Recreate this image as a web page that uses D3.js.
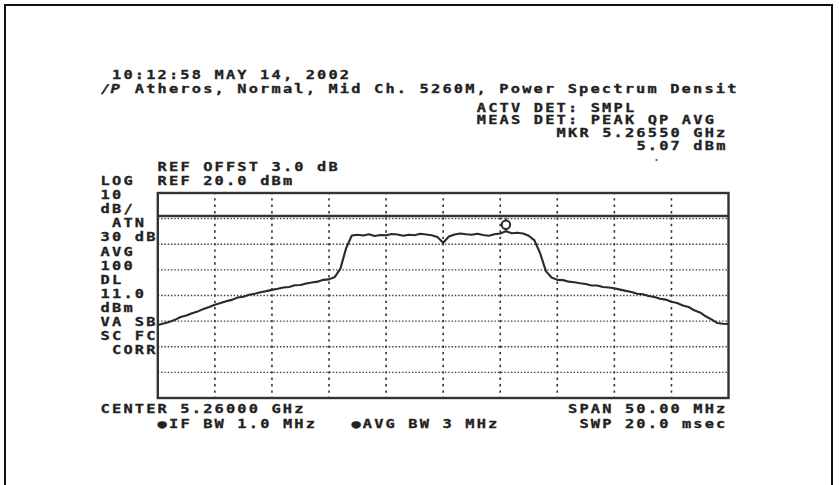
<!DOCTYPE html>
<html>
<head>
<meta charset="utf-8">
<script src="https://cdn.jsdelivr.net/npm/d3@7"></script>
<style>
  html, body { margin: 0; padding: 0; background: #fff; }
  svg { display: block; }
  .scr { font-family: "DejaVu Sans Mono", monospace; font-weight: bold; fill: #222; stroke: #222; stroke-width: 0.3; }
</style>
</head>
<body>
<svg id="chart" width="839" height="485"></svg>
<script>
// Spectrum analyser screen: 5.26 GHz centre, 50 MHz span, 10 dB/div log scale.
const freqStart = 5235;   // MHz
const freqStop = 5285;    // MHz
const freqStep = 0.5;     // MHz between trace samples
const refLevel = 20;      // dBm, top of graticule
const bottomLevel = -60;  // dBm, bottom of graticule
const displayLine = 11.0; // dBm

// Trace amplitudes (dBm), one per sample from 5235 to 5285 MHz
const traceDbm = [
  -31.5, -30.9, -30.3, -29.5, -28.4, -27.8, -26.9, -26.2, -25.3, -24.5,
  -23.6, -22.9, -22.2, -21.7, -20.8, -20.5, -19.7, -19.3, -18.7, -18.3,
  -17.8, -17.4, -16.9, -16.7, -16.0, -15.9, -15.3, -14.9, -14.6, -13.9,
  -13.7, -12.8, -9.5, -1.5, 3.4, 3.7, 3.4, 3.9, 3.2, 3.6,
  3.5, 4.0, 3.8, 3.3, 3.7, 3.5, 4.1, 3.8, 3.5, 2.8,
  0.6, 3.0, 3.8, 4.2, 3.9, 3.7, 4.1, 3.6, 3.3, 3.9,
  4.2, 5.07, 4.3, 4.5, 4.2, 3.3, 1.5, -3.5, -10.5, -13.0,
  -13.9, -14.0, -14.6, -14.8, -15.2, -15.5, -16.1, -16.1, -16.7, -16.9,
  -17.2, -17.7, -18.2, -18.6, -19.3, -19.5, -20.2, -20.6, -21.3, -21.6,
  -22.4, -22.9, -23.9, -24.5, -25.8, -26.6, -28.1, -29.3, -30.7, -31.0,
  -31.1
];

// Marker readout
const markerFreq = 5265.50; // MHz
const markerDbm = 5.07;

// Screen annotations: [text, column, baseline y]
const headerLines = [
  ["10:12:58 MAY 14, 2002", 1, 79],
  ["Atheros, Normal, Mid Ch. 5260M, Power Spectrum Densit", 3, 93],
  ["ACTV DET: SMPL", 33, 111.5],
  ["MEAS DET: PEAK QP AVG", 33, 124.3],
  ["MKR 5.26550 GHz", 40, 137.2],
  ["5.07 dBm", 47, 150.2],
  ["REF OFFST 3.0 dB", 5, 171.2],
  ["REF 20.0 dBm", 5, 185]
];
const sideLabels = [
  ["LOG", 0], ["10", 0], ["dB/", 0], ["ATN", 1], ["30 dB", 0], ["AVG", 0],
  ["100", 0], ["DL", 0], ["11.0", 0], ["dBm", 0], ["VA SB", 0], ["SC FC", 0],
  ["CORR", 1]
];
const footerLines = [
  ["CENTER 5.26000 GHz", 0, 412.5],
  ["SPAN 50.00 MHz", 41, 412.5],
  ["\u25CFIF BW 1.0 MHz", 5, 427.5],
  ["\u25CFAVG BW 3 MHz", 22, 427.5],
  ["SWP 20.0 msec", 42, 427.5]
];

const svg = d3.select("#chart");

// outer frame of the printout
svg.append("path")
  .attr("d", "M5,490 V5 H832 V490")
  .attr("fill", "none").attr("stroke", "#111").attr("stroke-width", 2);

const plot = { left: 157.8, right: 728.5, top: 193, bottom: 398 };
const x = d3.scaleLinear().domain([freqStart, freqStop]).range([plot.left, plot.right]);
const y = d3.scaleLinear().domain([bottomLevel, refLevel]).range([plot.bottom, plot.top]);

// character-cell text, as on the instrument display
const col0 = 100.6, pitch = 11.4, fs = 11.8, sx = 1.3;
const spacing = pitch / sx - 0.602 * fs;
function screenText(str, col, base) {
  svg.append("text").attr("class", "scr")
    .attr("transform", `translate(${col0 + col * pitch},${base}) scale(${sx},1)`)
    .attr("font-size", fs)
    .attr("letter-spacing", spacing)
    .style("white-space", "pre")
    .text(str);
}
headerLines.forEach(d => screenText(d[0], d[1], d[2]));
sideLabels.forEach((d, i) => screenText(d[0], d[1], 185 + i * 14.1));
footerLines.forEach(d => screenText(d[0], d[1], d[2]));

// hp logo in front of the title
svg.append("text").attr("class", "scr")
  .attr("transform", "translate(101,93) scale(1.3,1)")
  .attr("font-size", 12).attr("font-style", "italic")
  .text("\u2215P");
// small stray dot under the marker readout
svg.append("circle").attr("cx", 656.5).attr("cy", 160).attr("r", 1.1).attr("fill", "#444");

// graticule
const g = svg.append("g");
const vTicks = d3.range(freqStart + 5, freqStop, 5);
const hTicks = d3.range(bottomLevel + 10, refLevel, 10);
const halfDiv = (plot.bottom - plot.top) / 16;

g.selectAll("line.v").data(vTicks).join("line")
  .attr("x1", d => x(d)).attr("x2", d => x(d))
  .attr("y1", plot.top).attr("y2", plot.bottom)
  .attr("stroke", "#333").attr("stroke-width", 1.6)
  .attr("stroke-dasharray", `2.4 ${halfDiv / 2 - 2.4}`).attr("stroke-dashoffset", 1.2);

g.selectAll("line.h").data(hTicks).join("line")
  .attr("x1", plot.left).attr("x2", plot.right)
  .attr("y1", d => y(d)).attr("y2", d => y(d))
  .attr("stroke", "#444").attr("stroke-width", 1.3)
  .attr("stroke-dasharray", "1.5 1.8");

// display line
g.append("line")
  .attr("x1", plot.left).attr("x2", plot.right)
  .attr("y1", y(displayLine)).attr("y2", y(displayLine))
  .attr("stroke", "#333").attr("stroke-width", 2.4);

g.append("rect")
  .attr("x", plot.left).attr("y", plot.top)
  .attr("width", plot.right - plot.left).attr("height", plot.bottom - plot.top)
  .attr("fill", "none").attr("stroke", "#333").attr("stroke-width", 2.4);

// trace
svg.append("clipPath").attr("id", "clip").append("rect")
  .attr("x", plot.left).attr("y", plot.top)
  .attr("width", plot.right - plot.left).attr("height", plot.bottom - plot.top);

const traceFreq = d3.range(freqStart, freqStop + freqStep / 2, freqStep);
const pts = traceDbm.map((v, i) => [traceFreq[i], v]);
svg.append("path")
  .datum(pts)
  .attr("clip-path", "url(#clip)")
  .attr("fill", "none").attr("stroke", "#2a2a2a").attr("stroke-width", 2.1)
  .attr("stroke-linejoin", "round")
  .attr("d", d3.line().x(d => x(d[0])).y(d => y(d[1])));

// marker symbol above the peak
const mx = x(markerFreq), my = y(markerDbm) - 6.5;
svg.append("circle").attr("cx", mx).attr("cy", my).attr("r", 4.2)
  .attr("fill", "none").attr("stroke", "#2a2a2a").attr("stroke-width", 2);
svg.append("line").attr("x1", mx).attr("x2", mx).attr("y1", my - 7).attr("y2", my - 4.2)
  .attr("stroke", "#2a2a2a").attr("stroke-width", 1.5);
svg.append("line").attr("x1", mx).attr("x2", mx).attr("y1", my + 4.2).attr("y2", y(markerDbm))
  .attr("stroke", "#2a2a2a").attr("stroke-width", 1.5);
</script>
</body>
</html>
